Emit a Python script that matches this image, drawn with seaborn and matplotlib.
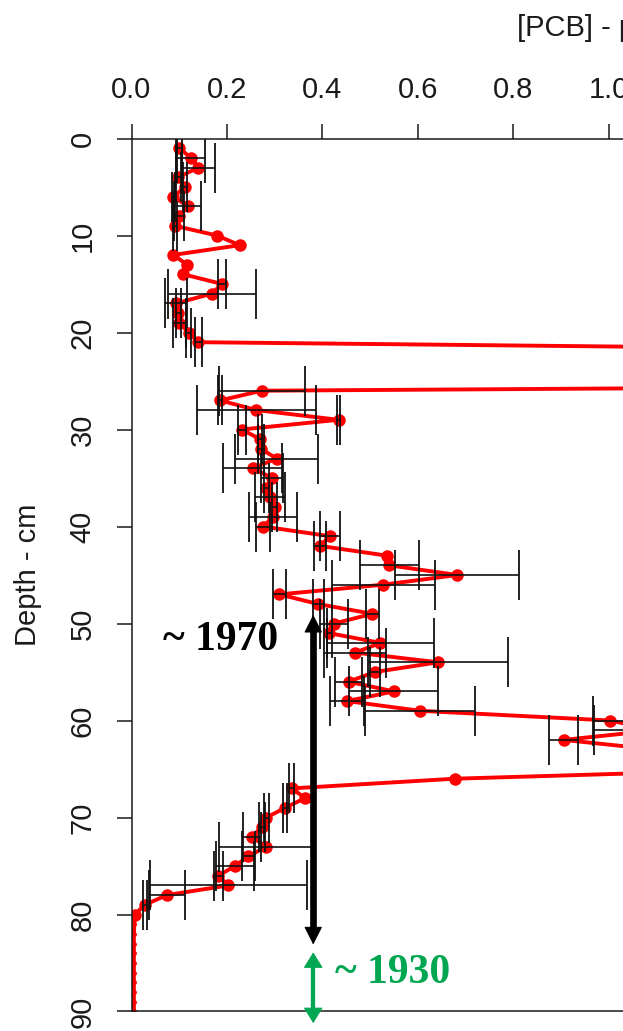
import numpy as np
import pandas as pd
import matplotlib
matplotlib.use("Agg")
import matplotlib.pyplot as plt
import seaborn as sns

# Core profile: depth (cm) and PCB concentration with half-width of the error bar
depth = [1, 2, 3, 4, 5, 6, 7, 8, 9, 10,
         11, 12, 13, 14, 15, 16, 17, 18, 19, 20,
         21, 22, 23, 24, 25, 26, 27, 28, 29, 30,
         31, 32, 33, 34, 35, 36, 37, 38, 39, 40,
         41, 42, 43, 44, 45, 46, 47, 48, 49, 50,
         51, 52, 53, 54, 55, 56, 57, 58, 59, 60,
         61, 62, 63, 64, 65, 66, 67, 68, 69, 70,
         71, 72, 73, 74, 75, 76, 77, 78, 79, 80]
pcb = [0.100, 0.125, 0.140, 0.098, 0.112, 0.088, 0.118, 0.100, 0.091, 0.179,
       0.227, 0.088, 0.116, 0.109, 0.190, 0.168, 0.093, 0.098, 0.100, 0.120,
       0.140, 2.100, 2.800, 3.200, 3.500, 0.273, 0.186, 0.262, 0.434, 0.231,
       0.270, 0.272, 0.304, 0.254, 0.295, 0.283, 0.290, 0.300, 0.297, 0.276,
       0.416, 0.395, 0.535, 0.540, 0.683, 0.528, 0.310, 0.392, 0.505, 0.425,
       0.415, 0.522, 0.469, 0.643, 0.510, 0.455, 0.550, 0.452, 0.605, 1.003,
       1.100, 0.906, 1.100, 1.600, 1.360, 0.678, 0.336, 0.364, 0.322, 0.283,
       0.273, 0.252, 0.283, 0.245, 0.217, 0.182, 0.203, 0.074, 0.028, 0.007]
pcb_err = [0.006, 0.030, 0.035, 0.005, 0.005, 0.004, 0.028, 0.010, 0.004, 0.0,
           0.0, 0.0, 0.0, 0.0, 0.008, 0.092, 0.023, 0.005, 0.014, 0.005,
           0.007, 0.0, 0.0, 0.0, 0.0, 0.090, 0.004, 0.125, 0.004, 0.008,
           0.004, 0.006, 0.086, 0.062, 0.023, 0.006, 0.032, 0.005, 0.051, 0.014,
           0.021, 0.013, 0.0, 0.062, 0.130, 0.108, 0.014, 0.012, 0.014, 0.029,
           0.006, 0.112, 0.065, 0.147, 0.010, 0.028, 0.093, 0.036, 0.115, 0.035,
           0.130, 0.031, 0.0, 0.0, 0.0, 0.0, 0.005, 0.0, 0.005, 0.005,
           0.006, 0.019, 0.100, 0.013, 0.040, 0.010, 0.164, 0.038, 0.004, 0.0]

# Pre-industrial section at the base of the core
base_depth = [80, 81, 82, 83, 84, 85, 86, 87, 88, 89, 90]
base_pcb = [0.007, 0.006, 0.005, 0.005, 0.005, 0.005, 0.005, 0.005, 0.005, 0.005, 0.005]

x_ticks = [0.0, 0.2, 0.4, 0.6, 0.8, 1.0, 1.2]
x_tick_labels = ["0.0", "0.2", "0.4", "0.6", "0.8", "1.0", "1.2"]
y_ticks = [0, 10, 20, 30, 40, 50, 60, 70, 80, 90]
y_tick_labels = ["0", "10", "20", "30", "40", "50", "60", "70", "80", "90"]

df = pd.DataFrame({"depth": depth, "pcb": pcb, "err": pcb_err})
df_base = pd.DataFrame({"depth": base_depth, "pcb": base_pcb})

sns.set_style("ticks")
plt.rcParams["font.family"] = ["Liberation Sans", "DejaVu Sans"]

W, H = 623, 1031
fig = plt.figure(figsize=(W / 100, H / 100), dpi=100)
fig.patch.set_facecolor("white")

# plot frame in pixels: x = 0 at 131.5 px, 477 px per unit; depth 0 at 138.5 px, 9.7 px per cm
x0_px, y0_px, px_unit, px_cm = 131.5, 138.5, 477.0, 9.7
xmax, ymax = 1.3, 90
ax = fig.add_axes([x0_px / W, (H - (y0_px + ymax * px_cm)) / H,
                   xmax * px_unit / W, ymax * px_cm / H])
ax.set_facecolor("white")

red = "#ff0000"
sns.lineplot(data=df, x="pcb", y="depth", sort=False, estimator=None,
             color=red, lw=2.8, marker="o", markersize=9, markeredgewidth=0,
             ax=ax, zorder=2)
sns.lineplot(data=df_base, x="pcb", y="depth", sort=False, estimator=None,
             color=red, lw=2.8, marker="o", markersize=3.5, markeredgewidth=0,
             ax=ax, zorder=2)

bars = df[df["err"] > 0]
ax.errorbar(bars["pcb"], bars["depth"], xerr=bars["err"], fmt="none",
            ecolor="#111111", elinewidth=1.2, capsize=18, capthick=1.3, zorder=3)

ax.set_xlim(0, xmax)
ax.set_ylim(ymax, 0)
ax.xaxis.tick_top()
ax.set_xticks(x_ticks)
ax.set_xticklabels(x_tick_labels)
ax.set_yticks(y_ticks)
ax.set_yticklabels(y_tick_labels)
ax.set_xlabel("")
ax.set_ylabel("")
ax.tick_params(axis="x", which="both", top=True, bottom=False, direction="out",
               length=11, width=1.1, pad=14, labelsize=21, colors="#1a1a1a")
ax.tick_params(axis="y", which="both", left=True, right=False, direction="out",
               length=11, width=1.1, pad=14, labelsize=21, colors="#1a1a1a",
               labelrotation=90)
for lab in ax.get_yticklabels():
    lab.set_verticalalignment("center")
for s in ax.spines.values():
    s.set_visible(True)
    s.set_linewidth(1.1)
    s.set_color("#1a1a1a")

fig.text(517 / W, 1 - 28 / H, "[PCB] - µg/g", ha="left", va="center",
         fontsize=21, color="#1a1a1a")
fig.text(28 / W, 1 - 575 / H, "Depth - cm", rotation=90, ha="center", va="center",
         fontsize=21, color="#1a1a1a")

# dating markers
arrow_x = 0.381


def double_arrow(x, d_top, d_bot, color, shaft_pt, head_len_cm, head_mut):
    ax.plot([x, x], [d_top + head_len_cm * 0.8, d_bot - head_len_cm * 0.8],
            color=color, lw=shaft_pt, solid_capstyle="butt", zorder=6, clip_on=False)
    for tip, tail in ((d_top, d_top + head_len_cm * 2), (d_bot, d_bot - head_len_cm * 2)):
        ax.annotate("", xy=(x, tip), xytext=(x, tail),
                    arrowprops=dict(arrowstyle=f"-|>,head_length={head_mut[0]},head_width={head_mut[1]}",
                                    color=color, lw=0.8, shrinkA=0, shrinkB=0,
                                    mutation_scale=10),
                    annotation_clip=False, zorder=7)


double_arrow(arrow_x, 49.1, 83.1, "black", 4.8, 1.75, (1.15, 0.58))
green = "#00a651"
double_arrow(arrow_x, 83.9, 91.2, green, 3.1, 1.5, (1.0, 0.62))

serif = ["Liberation Serif", "DejaVu Serif"]
ax.text(0.066, 52.7, "~ 1970", fontsize=30, fontweight="bold", family=serif,
        color="black", ha="left", va="baseline", zorder=8)
ax.text(0.427, 87.1, "~ 1930", fontsize=30, fontweight="bold", family=serif,
        color=green, ha="left", va="baseline", zorder=8, clip_on=False)

fig.savefig("out.png", dpi=100, facecolor="white")
